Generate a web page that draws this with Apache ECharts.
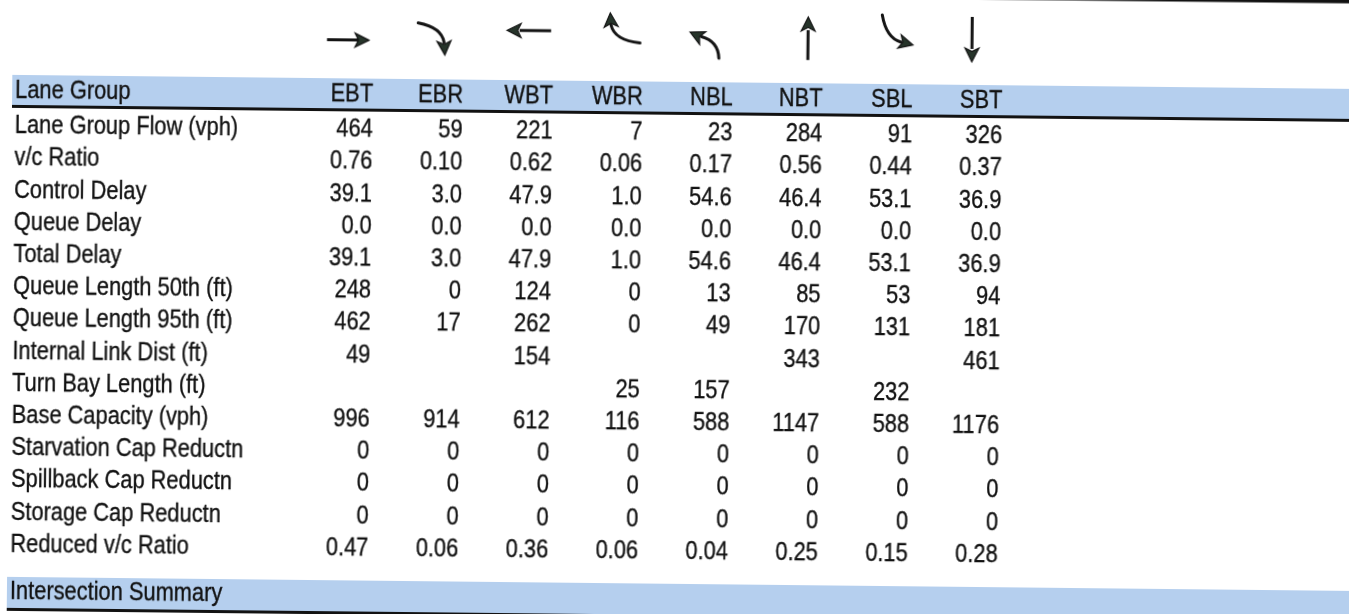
<!DOCTYPE html>
<html>
<head>
<meta charset="utf-8">
<script src="https://cdn.jsdelivr.net/npm/echarts@6/dist/echarts.min.js"></script>
<style>
html, body { margin: 0; padding: 0; background: #fff; overflow: hidden; width: 1349px; height: 614px; position: relative; }
#chart { position: absolute; left: -20px; top: -20px; width: 1440px; height: 700px;
  transform-origin: 520px 320px; transform: rotate(0.6deg); }
</style>
</head>
<body>
<div id="chart"></div>
<script>
// ---------------- data ----------------
const movements = ['EBT', 'EBR', 'WBT', 'WBR', 'NBL', 'NBT', 'SBL', 'SBT'];
const headerTitle = 'Lane Group';
const summaryTitle = 'Intersection Summary';
const rowLabels = [
  'Lane Group Flow (vph)', 'v/c Ratio', 'Control Delay', 'Queue Delay', 'Total Delay',
  'Queue Length 50th (ft)', 'Queue Length 95th (ft)', 'Internal Link Dist (ft)',
  'Turn Bay Length (ft)', 'Base Capacity (vph)', 'Starvation Cap Reductn',
  'Spillback Cap Reductn', 'Storage Cap Reductn', 'Reduced v/c Ratio'
];
const laneGroupFlow        = [464, 59, 221, 7, 23, 284, 91, 326];
const vcRatio              = [0.76, 0.10, 0.62, 0.06, 0.17, 0.56, 0.44, 0.37];
const controlDelay         = [39.1, 3.0, 47.9, 1.0, 54.6, 46.4, 53.1, 36.9];
const queueDelay           = [0.0, 0.0, 0.0, 0.0, 0.0, 0.0, 0.0, 0.0];
const totalDelay           = [39.1, 3.0, 47.9, 1.0, 54.6, 46.4, 53.1, 36.9];
const queueLength50        = [248, 0, 124, 0, 13, 85, 53, 94];
const queueLength95        = [462, 17, 262, 0, 49, 170, 131, 181];
const internalLinkDist     = [49, null, 154, null, null, 343, null, 461];
const turnBayLength        = [null, null, null, 25, 157, null, 232, null];
const baseCapacity         = [996, 914, 612, 116, 588, 1147, 588, 1176];
const starvationCapReductn = [0, 0, 0, 0, 0, 0, 0, 0];
const spillbackCapReductn  = [0, 0, 0, 0, 0, 0, 0, 0];
const storageCapReductn    = [0, 0, 0, 0, 0, 0, 0, 0];
const reducedVcRatio       = [0.47, 0.06, 0.36, 0.06, 0.04, 0.25, 0.15, 0.28];
const rowDecimals          = [0, 2, 1, 1, 1, 0, 0, 0, 0, 0, 0, 0, 0, 2];

const rowValues = [laneGroupFlow, vcRatio, controlDelay, queueDelay, totalDelay,
  queueLength50, queueLength95, internalLinkDist, turnBayLength, baseCapacity,
  starvationCapReductn, spillbackCapReductn, storageCapReductn, reducedVcRatio];

// ---------------- layout (axis units: x = column index, y = row index) ----------------
const X_MIN = -4.1268, X_MAX = 10.8787;
const Y_MIN = -4.0683, Y_MAX = 15.0;
const LABEL_X = -3.9822;
const BAND_X0 = -4.0156, BAND_X1 = 12.2;
const HEADER_Y = -1.087;
const HEADER_BAND = [-1.584, -0.652];
const HEADER_RULE = [-0.652, -0.559];
const SUMMARY_Y = 14.47;
const SUMMARY_BAND = [14.006, 14.969];
const SUMMARY_RULE = [14.969, 15.062];
const TOP_RULE = [-4.36, -4.24];
const ARROW_Y = -2.826;

const FONT = '26px "Liberation Sans", Arial, sans-serif';
const TEXT_SCALE_X = 0.84;
const TEXT_COLOR = '#111111';
const BAND_COLOR = '#b5cfee';
const RULE_COLOR = '#121212';

// arrow geometry (pixel offsets from the column anchor)
const ARROW_GEOM = {
  EBT: { shaft: [[-46.7, 1.6], [-14, 1.6]], tip: [-4.7, 1.6], dir: [1, 0] },
  EBR: { shaft: [[-45.6, -16.3], [-22, -12], [-19.5, 3]], tip: [-18.6, 15.6], dir: [0.07, 1] },
  WBT: { shaft: [[-2.5, -9.7], [-34, -9.7]], tip: [-46.5, -9.7], dir: [-1, 0] },
  WBR: { shaft: [[-3.4, 1.5], [-29, -1], [-32.5, -16]], tip: [-33.4, -28.2], dir: [-0.07, -1] },
  NBL: { shaft: [[-14.3, 16], [-15, -1], [-32, -5.5]], tip: [-43.3, -10], dir: [-0.9, -0.43] },
  NBT: { shaft: [[-15.2, 16.8], [-15.2, -13]], tip: [-15.2, -26.2], dir: [0, -1] },
  SBL: { shaft: [[-31.1, -29], [-27, -6], [-12, -2]], tip: [-0.1, 0.7], dir: [1, 0.25] },
  SBT: { shaft: [[-31, -28], [-31, 4]], tip: [-31, 17], dir: [0, 1] }
};

// ---------------- build items ----------------
const textItems = [];
textItems.push({ x: LABEL_X, y: HEADER_Y, text: headerTitle, align: 'left' });
movements.forEach((m, k) => textItems.push({ x: k, y: HEADER_Y, text: m, align: 'right' }));
rowLabels.forEach((lab, i) => {
  textItems.push({ x: LABEL_X, y: i, text: lab, align: 'left' });
  rowValues[i].forEach((v, k) => {
    if (v === null || v === undefined) return;
    textItems.push({ x: k, y: i, text: v.toFixed(rowDecimals[i]), align: 'right' });
  });
});
textItems.push({ x: LABEL_X, y: SUMMARY_Y, text: summaryTitle, align: 'left' });

const rects = [
  { x0: BAND_X0, x1: BAND_X1, y: HEADER_BAND, color: BAND_COLOR },
  { x0: BAND_X0, x1: BAND_X1, y: HEADER_RULE, color: RULE_COLOR },
  { x0: BAND_X0, x1: BAND_X1, y: SUMMARY_BAND, color: BAND_COLOR },
  { x0: BAND_X0, x1: BAND_X1, y: SUMMARY_RULE, color: RULE_COLOR },
  { x0: BAND_X0, x1: BAND_X1, y: TOP_RULE, color: RULE_COLOR }
];

function headPoints(tip, dir) {
  const len = Math.hypot(dir[0], dir[1]);
  const d = [dir[0] / len, dir[1] / len];
  const n = [-d[1], d[0]];
  const L = 14, W = 7, N = 3.5;
  return [
    tip,
    [tip[0] - L * d[0] + W * n[0], tip[1] - L * d[1] + W * n[1]],
    [tip[0] - (L - N) * d[0], tip[1] - (L - N) * d[1]],
    [tip[0] - L * d[0] - W * n[0], tip[1] - L * d[1] - W * n[1]]
  ];
}

const chart = echarts.init(document.getElementById('chart'), null, { renderer: 'canvas' });
chart.setOption({
  animation: false,
  backgroundColor: '#ffffff',
  grid: { left: 20, top: 20, width: 1349, height: 614 },
  xAxis: { type: 'value', min: X_MIN, max: X_MAX, show: false },
  yAxis: { type: 'value', min: Y_MIN, max: Y_MAX, inverse: true, show: false },
  series: [
    {
      type: 'custom', name: 'bands', coordinateSystem: 'cartesian2d', clip: false, z: 1,
      data: rects.map(r => [r.x0, r.y[0], r.x1, r.y[1]]),
      encode: { x: [0, 2], y: [1, 3] },
      renderItem: (params, api) => {
        const p0 = api.coord([api.value(0), api.value(1)]);
        const p1 = api.coord([api.value(2), api.value(3)]);
        return { type: 'rect', shape: { x: p0[0], y: p0[1], width: p1[0] - p0[0], height: p1[1] - p0[1] },
          style: { fill: rects[params.dataIndex].color } };
      }
    },
    {
      type: 'custom', name: 'arrows', coordinateSystem: 'cartesian2d', clip: false, z: 3,
      data: movements.map((m, k) => [k, ARROW_Y]),
      renderItem: (params, api) => {
        const a = api.coord([api.value(0), api.value(1)]);
        const g = ARROW_GEOM[movements[params.dataIndex]];
        const P = p => [a[0] + p[0], a[1] + p[1]];
        const children = [];
        const s = g.shaft.map(P);
        if (s.length === 2) {
          children.push({ type: 'line', shape: { x1: s[0][0], y1: s[0][1], x2: s[1][0], y2: s[1][1] },
            style: { stroke: '#141414', lineWidth: 3, lineCap: 'butt' } });
        } else {
          children.push({ type: 'bezierCurve', shape: { x1: s[0][0], y1: s[0][1], cpx1: s[1][0], cpy1: s[1][1], x2: s[2][0], y2: s[2][1] },
            style: { stroke: '#141414', lineWidth: 3, fill: null, lineCap: 'round' } });
        }
        children.push({ type: 'polygon', shape: { points: headPoints(P(g.tip), g.dir) },
          style: { fill: '#26342a', stroke: '#141414', lineWidth: 1.2 } });
        return { type: 'group', children };
      }
    },
    {
      type: 'custom', name: 'cells', coordinateSystem: 'cartesian2d', clip: false, z: 5,
      data: textItems.map(t => [t.x, t.y]),
      renderItem: (params, api) => {
        const t = textItems[params.dataIndex];
        const p = api.coord([api.value(0), api.value(1)]);
        return { type: 'text', x: p[0], y: p[1], scaleX: TEXT_SCALE_X,
          style: { text: t.text, font: FONT, fill: TEXT_COLOR, stroke: TEXT_COLOR, lineWidth: 0.35,
            align: t.align, verticalAlign: 'middle' } };
      }
    }
  ]
});
</script>
</body>
</html>
